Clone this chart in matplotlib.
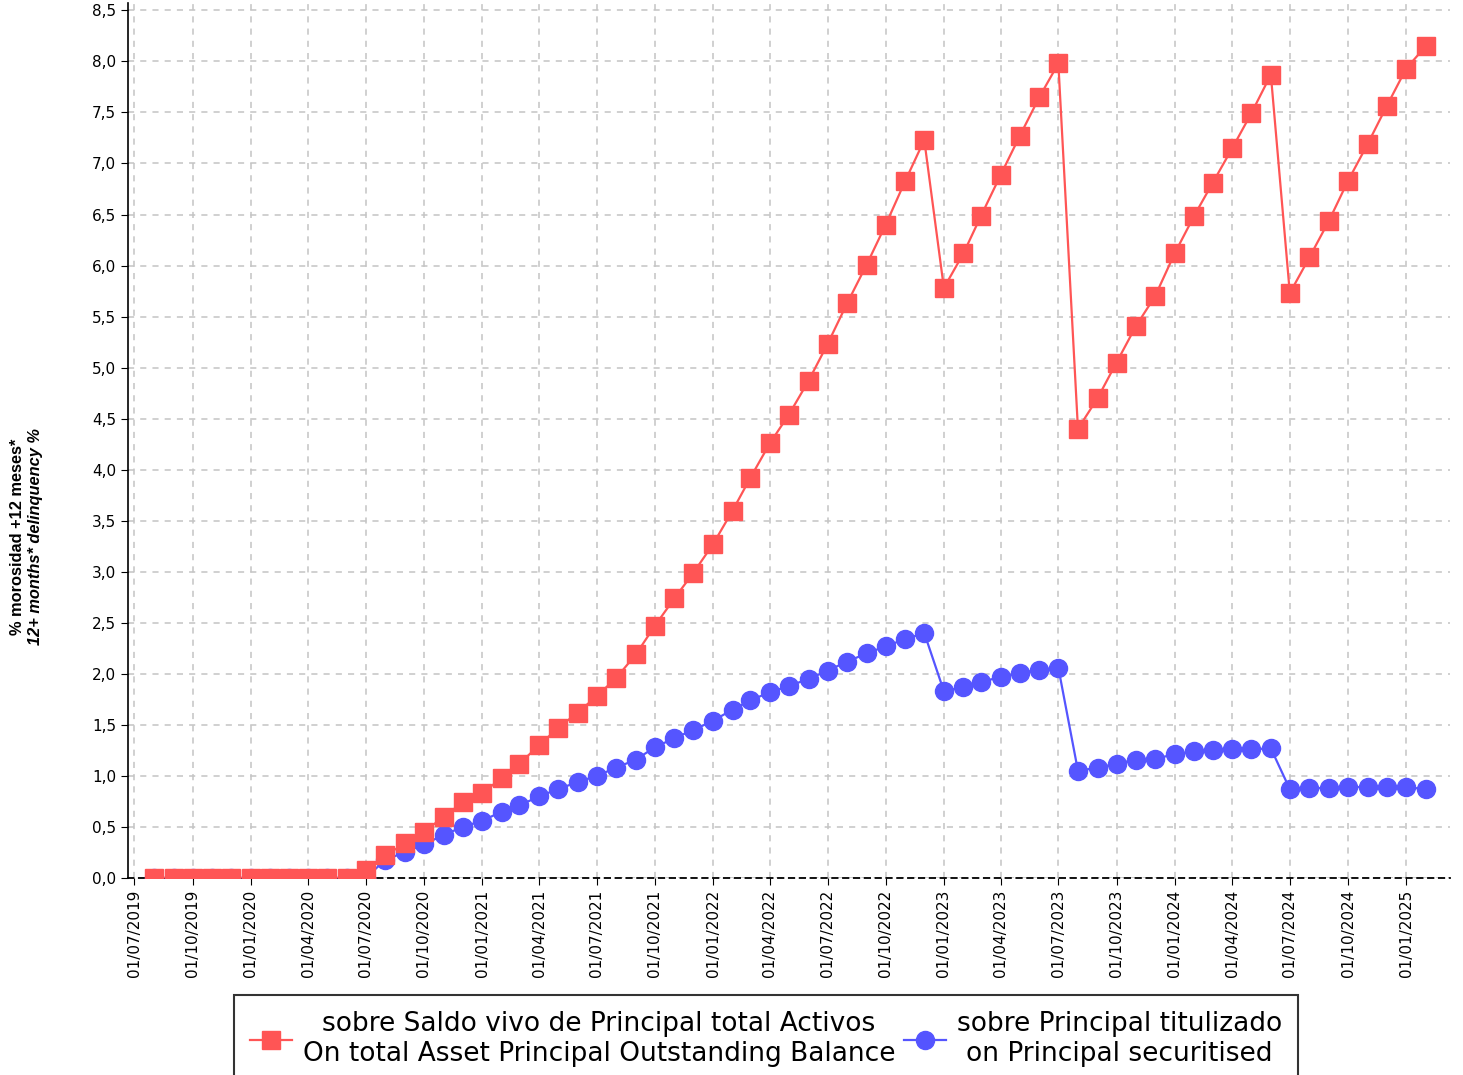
import pandas as pd
import matplotlib
matplotlib.use('Agg')
import matplotlib.pyplot as plt
import matplotlib.dates as mdates
from matplotlib.ticker import FuncFormatter, MultipleLocator

# Monthly observation dates (first of month), Aug 2019 - Feb 2025
dates = pd.date_range('2019-08-01', '2025-02-01', freq='MS')

# % over total asset principal outstanding balance
total_assets = [0.0] * 11 + [
    0.08, 0.22, 0.34, 0.45, 0.60, 0.74, 0.83, 0.98, 1.12, 1.30, 1.47, 1.62,
    1.78, 1.96, 2.19, 2.47, 2.74, 2.99, 3.27, 3.60, 3.92, 4.26, 4.54, 4.87,
    5.23, 5.63, 6.01, 6.40, 6.83, 7.23, 5.78, 6.12, 6.49, 6.89, 7.27, 7.65,
    7.98, 4.40, 4.70, 5.05, 5.41, 5.70, 6.12, 6.49, 6.81, 7.15, 7.49, 7.87,
    5.73, 6.08, 6.44, 6.83, 7.19, 7.56, 7.93, 8.15,
]

# % over principal securitised
securitised = [0.0] * 12 + [
    0.18, 0.25, 0.33, 0.42, 0.50, 0.56, 0.65, 0.71, 0.80, 0.87, 0.94,
    1.00, 1.08, 1.16, 1.28, 1.37, 1.45, 1.54, 1.65, 1.74, 1.82, 1.88, 1.95,
    2.03, 2.12, 2.20, 2.27, 2.34, 2.40, 1.83, 1.87, 1.92, 1.97, 2.01, 2.04,
    2.06, 1.05, 1.08, 1.12, 1.16, 1.17, 1.21, 1.24, 1.25, 1.26, 1.26, 1.27,
    0.87, 0.88, 0.88, 0.89, 0.89, 0.89, 0.89, 0.87,
]

label_total = 'sobre Saldo vivo de Principal total Activos\nOn total Asset Principal Outstanding Balance'
label_sec = 'sobre Principal titulizado\non Principal securitised'

fig = plt.figure(figsize=(14.63, 10.75), dpi=100)
ax = fig.add_axes([0.0875, 0.1833, 0.9035, 0.8137])

ax.plot(dates, securitised, color='#5555ff', marker='o', markersize=13,
        linewidth=1.6, label=label_sec, zorder=3)
ax.plot(dates, total_assets, color='#ff5555', marker='s', markersize=13.5,
        linewidth=1.6, label=label_total, zorder=4)

ax.set_xlim(pd.Timestamp('2019-06-21'), pd.Timestamp('2025-03-11'))
ax.set_ylim(0, 8.57)

ax.xaxis.set_major_locator(mdates.MonthLocator(bymonth=[1, 4, 7, 10]))
ax.xaxis.set_major_formatter(mdates.DateFormatter('%d/%m/%Y'))
ax.yaxis.set_major_locator(MultipleLocator(0.5))
ax.yaxis.set_major_formatter(FuncFormatter(lambda v, p: f'{v:.1f}'.replace('.', ',')))

ax.tick_params(axis='x', labelrotation=90, labelsize=11, length=5, direction='out')
ax.tick_params(axis='y', labelsize=11, length=5, direction='out')

ax.grid(True, linestyle=(0, (4, 4)), color='#c4c4c4', linewidth=1.1)
ax.set_axisbelow(True)

ax.spines['top'].set_visible(False)
ax.spines['right'].set_visible(False)
ax.spines['bottom'].set_linestyle((0, (3, 3)))
ax.spines['bottom'].set_linewidth(1.3)
ax.spines['left'].set_linewidth(1.2)

# two-line y label, second line in italics
fig.text(0.0118, 0.5005, '% morosidad +12 meses*', rotation=90, ha='center', va='center',
         fontsize=11.8, fontweight='bold', family='Liberation Sans')
fig.text(0.0240, 0.5005, '12+ months* delinquency %', rotation=90, ha='center', va='center',
         fontsize=11.8, fontweight='bold', style='italic', family='Liberation Sans')

handles, labels = ax.get_legend_handles_labels()
leg = fig.legend(handles[::-1], labels[::-1], loc='upper center', ncol=2,
                 bbox_to_anchor=(0.5236, 0.0744), fontsize=19, frameon=True,
                 fancybox=False, edgecolor='black', handlelength=1.6,
                 handletextpad=0.4, columnspacing=0.35, borderpad=0.6,
                 borderaxespad=0, labelspacing=0.3)
leg.get_frame().set_linewidth(1.5)
for t in leg.get_texts():
    t.set_multialignment('center')

fig.savefig('out.png', dpi=100)
